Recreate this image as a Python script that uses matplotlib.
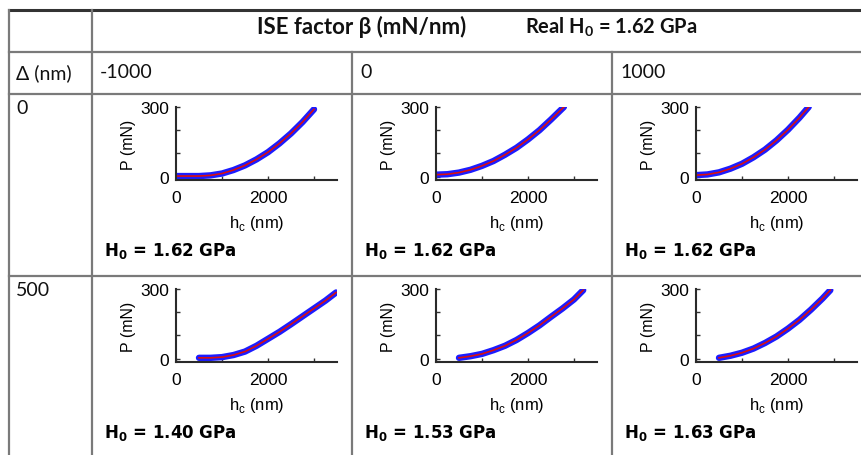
import numpy as np
from matplotlib import pyplot as plt

W, H = 861, 456

beta_values = ["-1000", "0", "1000"]
delta_values = ["0", "500"]
h0_fit = [["1.62", "1.62", "1.62"],
          ["1.40", "1.53", "1.63"]]

# hc (nm) and P (mN), row = delta, col = beta
hc_d0_bm = [0, 250, 500, 750, 1000, 1250, 1500, 1750, 2000, 2250, 2500, 2750, 3000]
P_d0_bm = [2, 2, 2, 5, 13, 28, 48, 74, 105, 143, 186, 235, 290]
hc_d0_b0 = [0, 250, 500, 750, 1000, 1250, 1500, 1750, 2000, 2250, 2500, 2780]
P_d0_b0 = [8, 10, 17, 29, 46, 67, 94, 124, 160, 200, 246, 300]
hc_d0_bp = [0, 250, 500, 750, 1000, 1250, 1500, 1750, 2000, 2250, 2450]
P_d0_bp = [6, 9, 18, 34, 55, 83, 116, 156, 202, 254, 300]
hc_d5_bm = [500, 750, 1000, 1250, 1500, 1750, 2000, 2250, 2500, 2750, 3000, 3250, 3480]
P_d5_bm = [3, 3, 6, 15, 30, 55, 85, 115, 148, 182, 216, 250, 285]
hc_d5_b0 = [500, 750, 1000, 1250, 1500, 1750, 2000, 2250, 2500, 2750, 3000, 3200]
P_d5_b0 = [3, 10, 20, 36, 55, 80, 110, 143, 180, 216, 255, 295]
hc_d5_bp = [500, 750, 1000, 1250, 1500, 1750, 2000, 2250, 2500, 2750, 2920]
P_d5_bp = [3, 12, 25, 43, 67, 95, 129, 167, 211, 259, 295]

curves = [[(hc_d0_bm, P_d0_bm), (hc_d0_b0, P_d0_b0), (hc_d0_bp, P_d0_bp)],
          [(hc_d5_bm, P_d5_bm), (hc_d5_b0, P_d5_b0), (hc_d5_bp, P_d5_bp)]]

col_x = [92, 352, 612]
row_y = [95, 277]


def px_rect(left, top, right, bottom):
  return [left / W, 1 - bottom / H, (right - left) / W, (bottom - top) / H]


plt.rcParams["font.family"] = "Liberation Sans"

fig = plt.figure(figsize=(W / 100, H / 100), dpi=100)
fig.patch.set_facecolor("white")

# table grid + text in pixel coords
tab = fig.add_axes([0, 0, 1, 1])
tab.set_xlim(0, W)
tab.set_ylim(H, 0)
tab.axis("off")

grey = "#7a7a7a"
tab.plot([9, W], [11, 11], color="#333333", lw=2.2)
for y in [53, 95, 277]:
  tab.plot([9, W], [y, y], color=grey, lw=1.6)
tab.plot([9, 9], [11, H], color=grey, lw=1.6)
tab.plot([92, 92], [11, H], color=grey, lw=1.6)
for x in col_x[1:]:
  tab.plot([x, x], [53, H], color=grey, lw=1.6)

tfont = dict(family="Lato", fontsize=14, color="#111111", va="center")
tab.text(362, 27, "ISE factor β (mN/nm)", ha="center", fontweight="bold",
         **dict(tfont, fontsize=16))
tab.text(525, 27, "Real H$_\\mathdefault{0}$ = 1.62 GPa", ha="left", fontweight="bold",
         **dict(tfont, fontsize=14.5))
tab.text(16, 73, "Δ (nm)", ha="left", **tfont)
for x, b in zip(col_x, beta_values):
  tab.text(x + 8, 73, b, ha="left", **tfont)
for y, d in zip(row_y, delta_values):
  tab.text(16, y + 14, d, ha="left", **tfont)

for r in range(2):
  for c in range(3):
    left = col_x[c] + 84
    top = row_y[r] + 13
    ax = fig.add_axes(px_rect(left, top, left + 161, top + 73))
    hc, P = curves[r][c]
    ax.plot(hc, P, color="#1c1cff", lw=4.6, solid_capstyle="round")
    ax.plot(hc, P, color="#d81010", lw=1.2)
    ax.set_xlim(0, 3500)
    ax.set_ylim(-15, 300)
    ax.set_xticks([0, 1000, 2000, 3000])
    ax.set_xticklabels(["0", "", "2000", ""])
    ax.set_yticks([0, 100, 200, 300])
    ax.set_yticklabels(["0", "", "", "300"])
    ax.tick_params(direction="in", length=3, width=1, color="#333333",
                   labelsize=12.5)
    ax.tick_params(axis="x", pad=7)
    ax.tick_params(axis="y", pad=5)
    for s in ["top", "right"]:
      ax.spines[s].set_visible(False)
    for s in ["left", "bottom"]:
      ax.spines[s].set_color("#2a2a2a")
      ax.spines[s].set_linewidth(1.5)
    ax.set_xlabel("h$_\\mathdefault{c}$ (nm)", labelpad=6, fontsize=12)
    ax.set_ylabel("P (mN)", labelpad=3, fontsize=11.5)
    ax.patch.set_alpha(0)
    tab.text(col_x[c] + 12, row_y[r] + 156, "H$_\\mathdefault{0}$ = %s GPa" % h0_fit[r][c],
             family="DejaVu Sans", fontweight="bold", fontsize=12, va="center", ha="left")

fig.savefig("out.png", dpi=100)
